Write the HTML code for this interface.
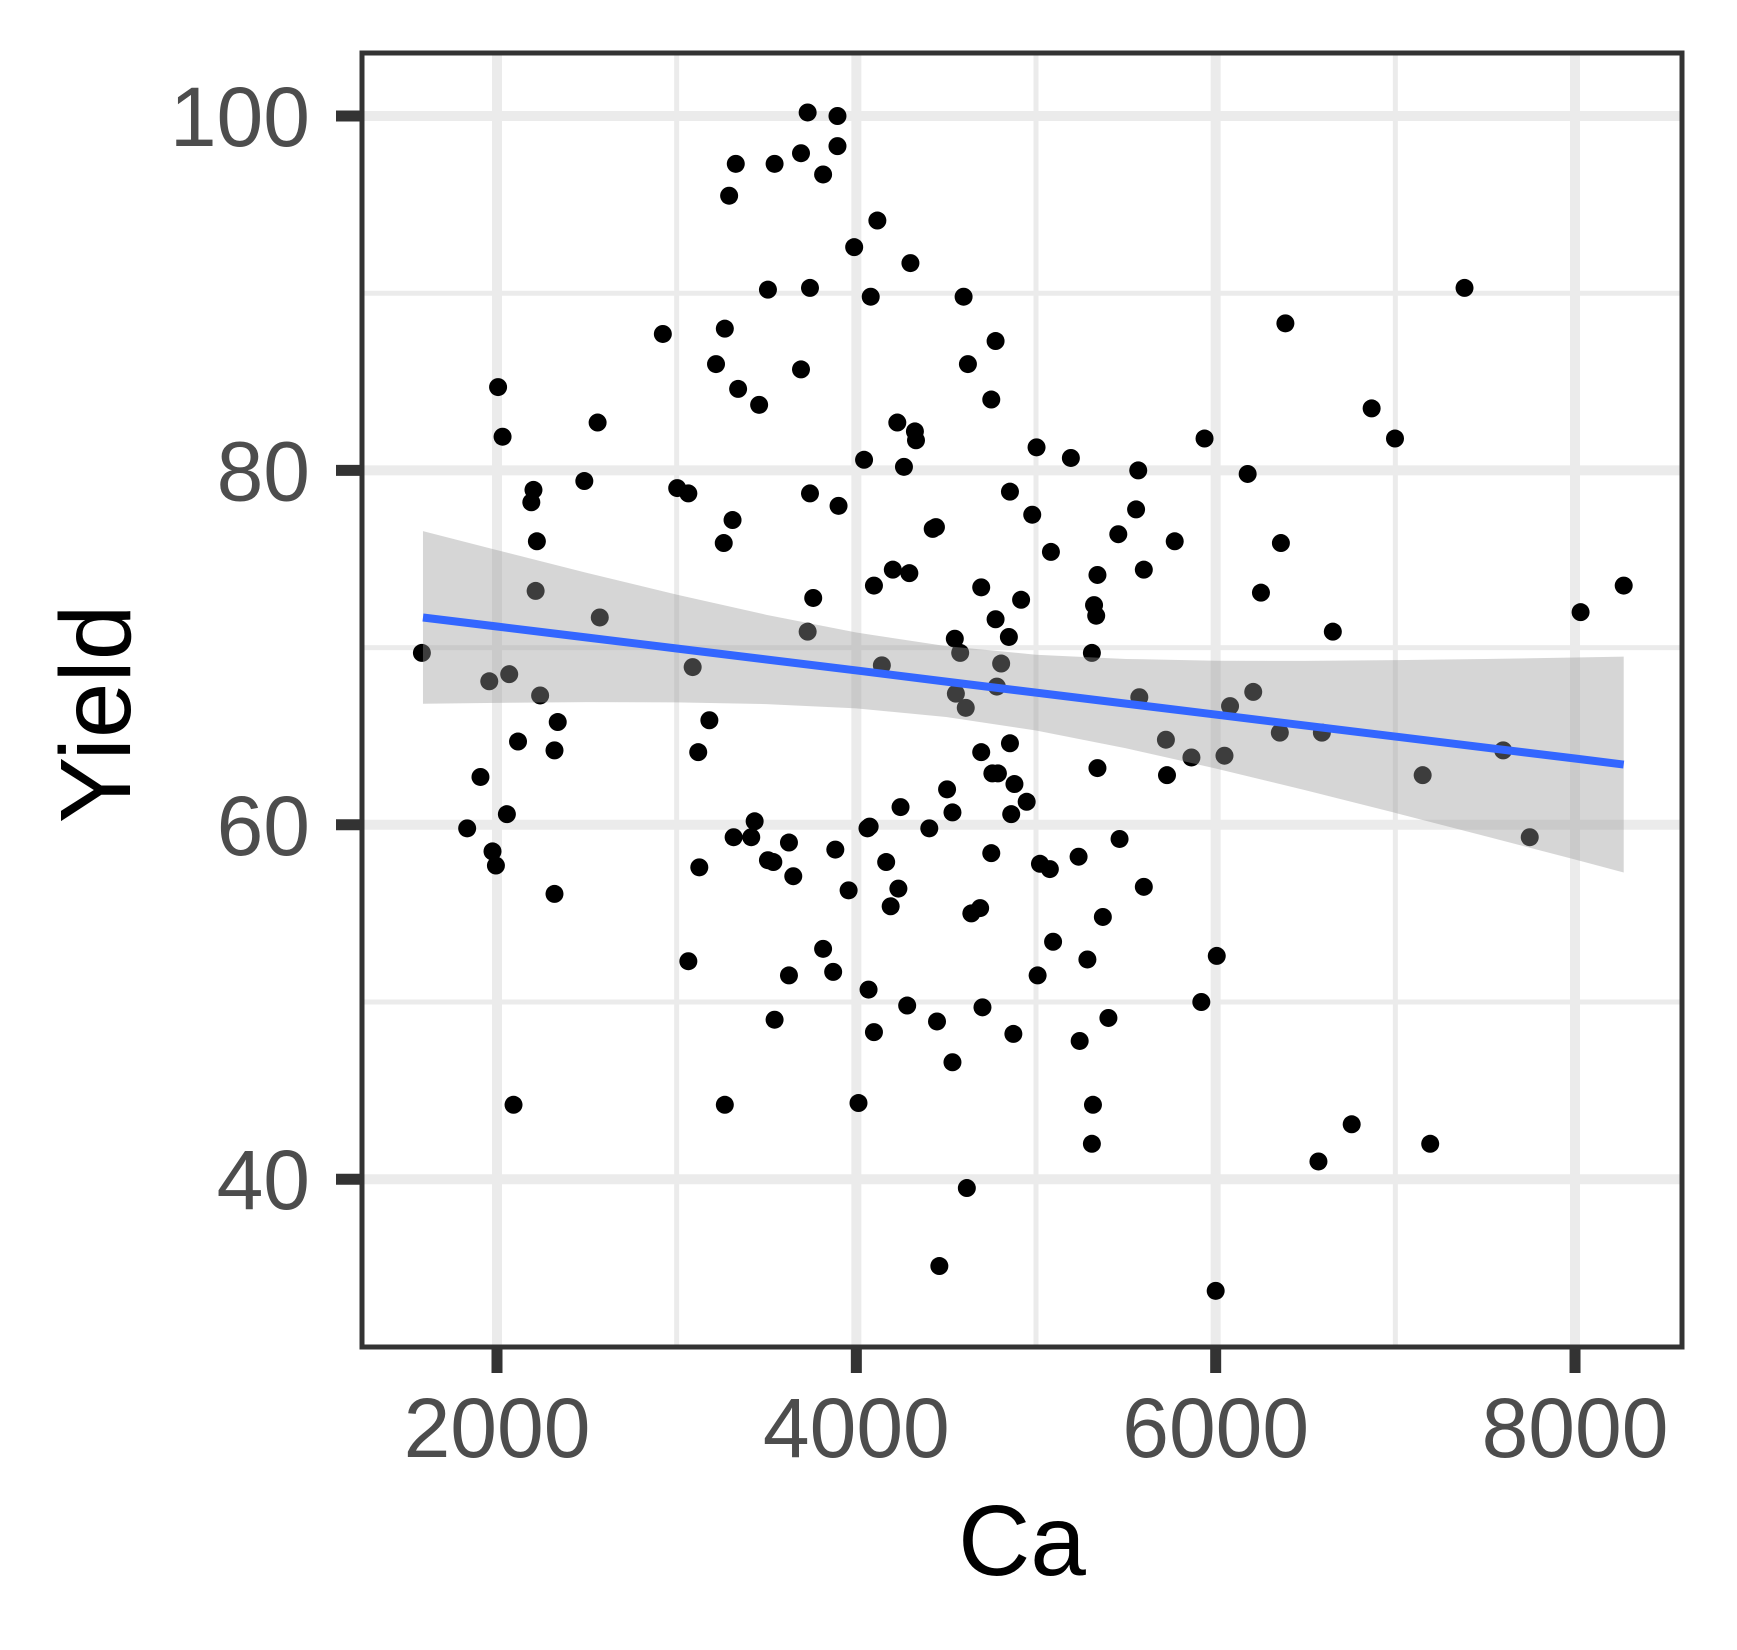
<!DOCTYPE html>
<html><head><meta charset="utf-8"><style>
html,body{margin:0;padding:0;background:#fff;}
svg{display:block;font-family:"Liberation Sans",Arial,sans-serif;}
</style></head><body>
<svg id="chart" width="1737" height="1650" viewBox="0 0 1737 1650" xmlns="http://www.w3.org/2000/svg">
<rect x="0" y="0" width="1737" height="1650" fill="#fff"/>
<g id="grid"></g>
<g id="points"></g>
<g id="fit"></g>
<rect x="362" y="53" width="1320" height="1294" fill="none" stroke="#333" stroke-width="5"/>
<g id="axes"></g>
<text x="1022" y="1575" text-anchor="middle" font-size="100" fill="#000">Ca</text>
<text transform="translate(130,714) rotate(-90)" text-anchor="middle" font-size="100" fill="#000">Yield</text>
</svg>
<script>
const caValues = [1582,1834,1908,1957,1975,1994,2006,2031,2055,2068,2092,2117,2191,2203,2215,2222,2240,2320,2338,2320,2486,2560,2572,2923,3003,3065,3065,3089,3120,3126,3182,3219,3262,3268,3268,3292,3311,3329,3317,3342,3415,3434,3459,3508,3508,3538,3545,3545,3625,3625,3649,3692,3692,3729,3729,3742,3742,3760,3815,3815,3871,3883,3895,3895,3901,3957,3988,4012,4043,4062,4074,4068,4080,4098,4098,4117,4142,4166,4191,4203,4228,4234,4246,4265,4283,4295,4301,4326,4332,4406,4425,4443,4449,4462,4505,4535,4535,4548,4554,4578,4597,4609,4615,4621,4640,4689,4695,4695,4702,4751,4751,4757,4775,4775,4788,4782,4806,4849,4855,4855,4862,4874,4880,4917,4948,4979,5003,5009,5022,5077,5083,5095,5194,5237,5243,5286,5311,5311,5323,5317,5335,5342,5342,5372,5403,5458,5465,5557,5569,5575,5600,5600,5723,5729,5772,5865,5920,5938,6006,6000,6049,6080,6178,6209,6252,6357,6363,6388,6572,6591,6652,6757,6868,6998,7152,7194,7385,7600,7748,8031,8271];
const yieldValues = [69.7,59.8,62.7,68.1,58.5,57.7,84.7,81.9,60.6,68.5,44.2,64.7,78.2,78.9,73.2,76.0,67.3,64.2,65.8,56.1,79.4,82.7,71.7,87.7,79.0,78.7,52.3,68.9,64.1,57.6,65.9,86.0,75.9,88.0,44.2,95.5,77.2,97.3,59.3,84.6,59.3,60.2,83.7,90.2,58.0,57.9,97.3,49.0,59.0,51.5,57.1,97.9,85.7,100.2,70.9,90.3,78.7,72.8,53.0,96.7,51.7,58.6,98.3,100.0,78.0,56.3,92.6,44.3,80.6,59.8,59.9,50.7,89.8,48.3,73.5,94.1,69.0,57.9,55.4,74.4,82.7,56.4,61.0,80.2,49.8,74.2,91.7,82.2,81.7,59.8,76.7,76.8,48.9,35.1,62.0,60.7,46.6,70.5,67.4,69.7,89.8,66.6,39.5,86.0,55.0,55.3,73.4,64.1,49.7,84.0,58.4,62.9,87.3,71.6,62.9,67.8,69.1,70.6,78.8,64.6,60.6,48.2,62.3,72.7,61.3,77.5,81.3,51.5,57.8,57.5,75.4,53.4,80.7,58.2,47.8,52.4,69.7,42.0,72.4,44.2,71.8,74.1,63.2,54.8,49.1,76.4,59.2,77.8,80.0,67.2,74.4,56.5,64.8,62.8,76.0,63.8,50.0,81.8,52.6,33.7,63.9,66.7,79.8,67.5,73.1,65.2,75.9,88.3,41.0,65.2,70.9,43.1,83.5,81.8,62.8,42.0,90.3,64.2,59.3,72.0,73.5];
const bandX = [1588,2000,2500,3000,3500,4000,4500,5000,5500,6000,6500,7000,7500,8000,8271];
const fitY = [71.70,71.19,70.57,69.95,69.33,68.71,68.08,67.46,66.84,66.22,65.60,64.98,64.36,63.74,63.40];
const bandUpper = [76.57,75.50,74.22,72.99,71.85,70.85,70.08,69.60,69.36,69.26,69.25,69.29,69.36,69.44,69.49];
const bandLower = [66.83,66.88,66.92,66.91,66.81,66.57,66.08,65.32,64.32,63.18,61.95,60.67,59.36,58.04,57.31];
const xTicks = [2000,4000,6000,8000];
const xMinor = [3000,5000,7000];
const yTicks = [40,60,80,100];
const yMinor = [50,70,90];

const NS = "http://www.w3.org/2000/svg";
const PL = 362, PR = 1682, PT = 53, PB = 1347;
function sx(v){ return 497 + (v - 2000) * 0.17967; }
function sy(v){ return 116 + (100 - v) * 17.72; }
function mk(tag, attrs, parent){
  const e = document.createElementNS(NS, tag);
  for (const k in attrs) e.setAttribute(k, attrs[k]);
  parent.appendChild(e);
  return e;
}
const grid = document.getElementById('grid');
yMinor.forEach(v => { const l = mk('line',{x1:PL,x2:PR,y1:sy(v),y2:sy(v),stroke:'#ebebeb','stroke-width':5},grid);
  
   });
xMinor.forEach(v => { const l = mk('line',{x1:sx(v),x2:sx(v),y1:PT,y2:PB,stroke:'#ebebeb','stroke-width':5},grid);
  
   });
yTicks.forEach(v => { const l = mk('line',{x1:PL,x2:PR,y1:sy(v),y2:sy(v),stroke:'#ebebeb','stroke-width':10},grid);
  
   });
xTicks.forEach(v => { const l = mk('line',{x1:sx(v),x2:sx(v),y1:PT,y2:PB,stroke:'#ebebeb','stroke-width':10},grid);
  
   });

const pts = document.getElementById('points');
caValues.forEach((c, i) => {
  const p = mk('circle',{cx:sx(c),cy:sy(yieldValues[i]),r:9,fill:'#000'},pts);
  
  
});

const fit = document.getElementById('fit');
let d = '';
bandX.forEach((x,i)=>{ d += (i?'L':'M') + sx(x) + ',' + sy(bandUpper[i]) + ' '; });
for (let i = bandX.length-1; i >= 0; i--) d += 'L' + sx(bandX[i]) + ',' + sy(bandLower[i]) + ' ';
d += 'Z';
const band = mk('path',{d:d,fill:'#999999','fill-opacity':0.4},fit);


const line = mk('polyline',{points:bandX.map((x,i)=>sx(x)+','+sy(fitY[i])).join(' '),fill:'none',stroke:'#3366FF','stroke-width':8},fit);



const axes = document.getElementById('axes');
yTicks.forEach(v => {
  const t = mk('line',{x1:PL-26,x2:PL,y1:sy(v),y2:sy(v),stroke:'#333','stroke-width':11},axes);
  
  
  const tx = mk('text',{x:PL-52,y:sy(v)+30,'text-anchor':'end','font-size':84,fill:'#4d4d4d'},axes);
  tx.textContent = v;
  
  
});
xTicks.forEach(v => {
  const t = mk('line',{x1:sx(v),x2:sx(v),y1:PB,y2:PB+26,stroke:'#333','stroke-width':11},axes);
  
  
  const tx = mk('text',{x:sx(v),y:1457,'text-anchor':'middle','font-size':84,fill:'#4d4d4d'},axes);
  tx.textContent = v;
  
  
});
</script>
</body></html>
